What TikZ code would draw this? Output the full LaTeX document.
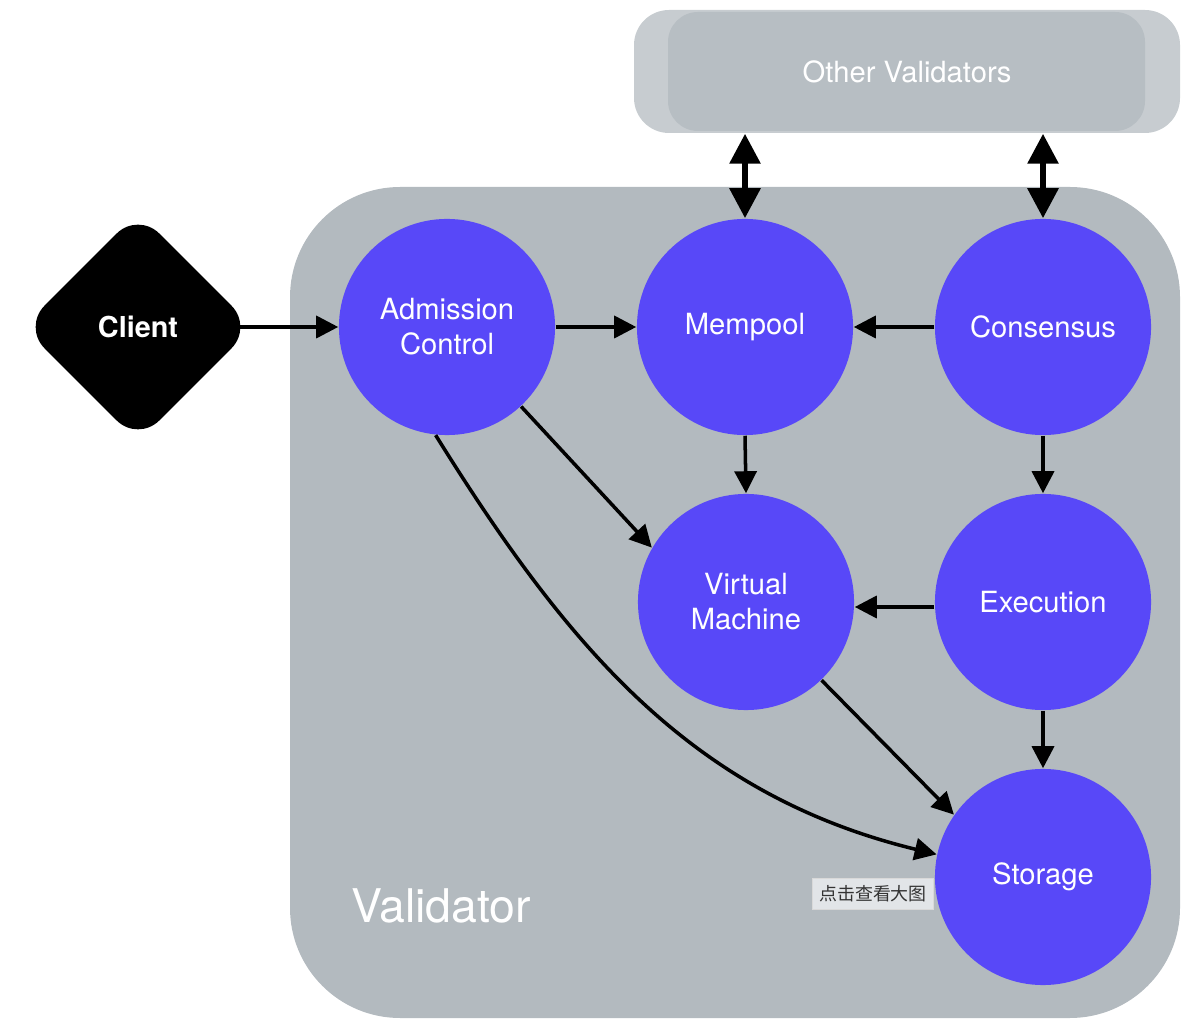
\documentclass[tikz,border=0pt]{standalone}
\usepackage{fontspec}
\setmainfont{TeX Gyre Heros}
\newfontfamily\cjk{Noto Sans CJK SC}
\usetikzlibrary{shapes.geometric, arrows.meta}

\definecolor{modblue}{RGB}{88,72,248}
\definecolor{valgray}{RGB}{179,186,191}
\definecolor{othergray}{RGB}{199,204,208}
\definecolor{otherinner}{RGB}{183,190,195}
\definecolor{tipgray}{RGB}{226,229,232}

\tikzset{
	module/.style={circle, fill=modblue, minimum size=2.16cm, inner sep=0pt,
		text=white, align=center, font=\fontsize{8.3}{10}\selectfont},
	arr/.style={-{Triangle[length=0.22cm, width=0.22cm]}, line width=1pt},
	twoway/.style={{Triangle[length=0.3cm, width=0.3cm]}-{Triangle[length=0.3cm, width=0.3cm]}, line width=1.7pt},
}

\begin{document}
\begin{tikzpicture}[x=0.01cm, y=-0.01cm]
		\useasboundingbox (0, 0) rectangle (1200, 1034);
		% boxes
		\fill[valgray, rounded corners=1.1cm] (290, 187) rectangle (1180, 1018);
		\fill[othergray, rounded corners=0.35cm] (634, 10) rectangle (1180, 133);
		\fill[otherinner, rounded corners=0.3cm] (668, 12) rectangle (1145, 131);
		\node[minimum width=5.46cm, minimum height=1.23cm, text=white,
			font=\fontsize{8.3}{10}\selectfont] (ov) at (907, 71.5) {Other Validators};
		\node[text=white, font=\fontsize{13.2}{15}\selectfont] (vlabel) at (441, 906) {Validator};
		% client
		\node[diamond, aspect=1, fill=black, rounded corners=0.3cm, minimum size=2.3cm,
			inner sep=0pt, text=white, font=\fontsize{8.2}{10}\selectfont\bfseries]
			(client) at (138, 327) {Client};
		% modules
		\node[module] (adm) at (447, 327) {Admission\\Control};
		\node[module] (mem) at (745, 327) {Mempool};
		\node[module] (cons) at (1043, 327) {Consensus};
		\node[module] (vm) at (746, 602) {Virtual\\Machine};
		\node[module] (exe) at (1043, 602) {Execution};
		\node[module] (sto) at (1043, 877) {Storage};
		% connectors
		\draw[arr] ([xshift=-0.14cm]client.east) -- (adm.west);
		\draw[arr] (adm.east) -- (mem.west);
		\draw[arr] (cons.west) -- (mem.east);
		\draw[arr] (mem.south) -- (vm.north);
		\draw[arr] (cons.south) -- (exe.north);
		\draw[arr] ([yshift=-0.05cm]exe.west) -- ([yshift=-0.05cm]vm.east);
		\draw[arr] (exe.south) -- (sto.north);
		\draw[arr] (adm.-47) -- (vm.150);
		\draw[arr] (vm.-46) -- (sto.145);
		\draw[arr] (adm.-96) .. controls (568, 648) and (692, 795) .. (sto.168);
		\draw[twoway] (ov.south -| mem.north) -- (mem.north);
		\draw[twoway] (ov.south -| cons.north) -- (cons.north);
		% hint
		\node[fill=tipgray, draw=white!85!black, line width=0.3pt, inner sep=2pt,
			text=black!80, font=\cjk\fontsize{5.1}{6}\selectfont] (hint) at (873, 894) {点击查看大图};
	\end{tikzpicture}
\end{document}
